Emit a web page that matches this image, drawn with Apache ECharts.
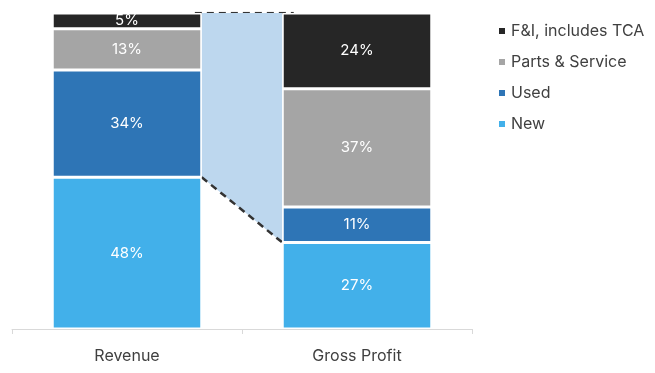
<!DOCTYPE html>
<html>
<head>
<meta charset="utf-8">
<script src="https://cdn.jsdelivr.net/npm/echarts@6/dist/echarts.min.js"></script>
<style>html,body{margin:0;padding:0;background:#fff}#c{width:655px;height:373px}</style>
</head>
<body>
<div id="c"></div>
<script>
const categories = ['Revenue', 'Gross Profit'];
const seriesNames = ['New', 'Used', 'Parts & Service', 'F&I, includes TCA'];
const newVals = [48, 27.4];
const usedVals = [34, 11.2];
const partsVals = [13, 37.4];
const fiVals = [5, 24.0];
const colors = ['#42B0EA', '#2E75B6', '#A5A5A5', '#262626'];
const barFrac = 0.65;

const font = 'Inter, "Open Sans", sans-serif';
const chart = echarts.init(document.getElementById('c'));
const allVals = [newVals, usedVals, partsVals, fiVals];
const bars = seriesNames.map((n, i) => ({
  name: n, type: 'bar', stack: 'a', xAxisIndex: 0, barWidth: (barFrac * 100) + '%',
  data: allVals[i], z: 3,
  itemStyle: { color: colors[i], borderColor: '#fff', borderWidth: 1.5 },
  label: { show: true, position: 'inside', color: '#fff', fontSize: 15, fontFamily: font,
    formatter: p => Math.round(p.value) + '%' }
}));
const xl = 0.5 + barFrac / 2, xr = 1.5 - barFrac / 2;
chart.setOption({
  animation: false,
  grid: { left: 12, right: 183, top: 13, bottom: 44 },
  legend: {
    data: seriesNames.slice().reverse(), orient: 'vertical', left: 492, top: 18,
    icon: 'rect', itemWidth: 8, itemHeight: 8, itemGap: 15,
    textStyle: { fontSize: 16, color: '#404040', fontFamily: font }
  },
  xAxis: [
    { type: 'category', data: categories,
      axisLine: { lineStyle: { color: '#D9D9D9' } },
      axisTick: { show: true, length: 5, lineStyle: { color: '#D9D9D9' } },
      axisLabel: { fontSize: 16, color: '#404040', margin: 19, fontFamily: font } },
    { type: 'value', min: 0, max: 2, show: false }
  ],
  yAxis: { type: 'value', min: 0, max: 100, show: false },
  series: bars.concat([
    { type: 'line', xAxisIndex: 1, symbol: 'none', z: 2, silent: true,
      data: [[xl, newVals[0]], [xr, newVals[1]]],
      lineStyle: { color: '#333', width: 2.5, type: [7, 5] },
      areaStyle: { origin: 'end', color: '#BDD7EE', opacity: 1 } },
    { type: 'line', xAxisIndex: 1, symbol: 'none', z: 1, silent: true,
      data: [[xl - 0.03, 100], [xr + 0.05, 100]],
      lineStyle: { color: '#333', width: 2.5, type: [7, 5] } }
  ])
});
</script>
</body>
</html>
